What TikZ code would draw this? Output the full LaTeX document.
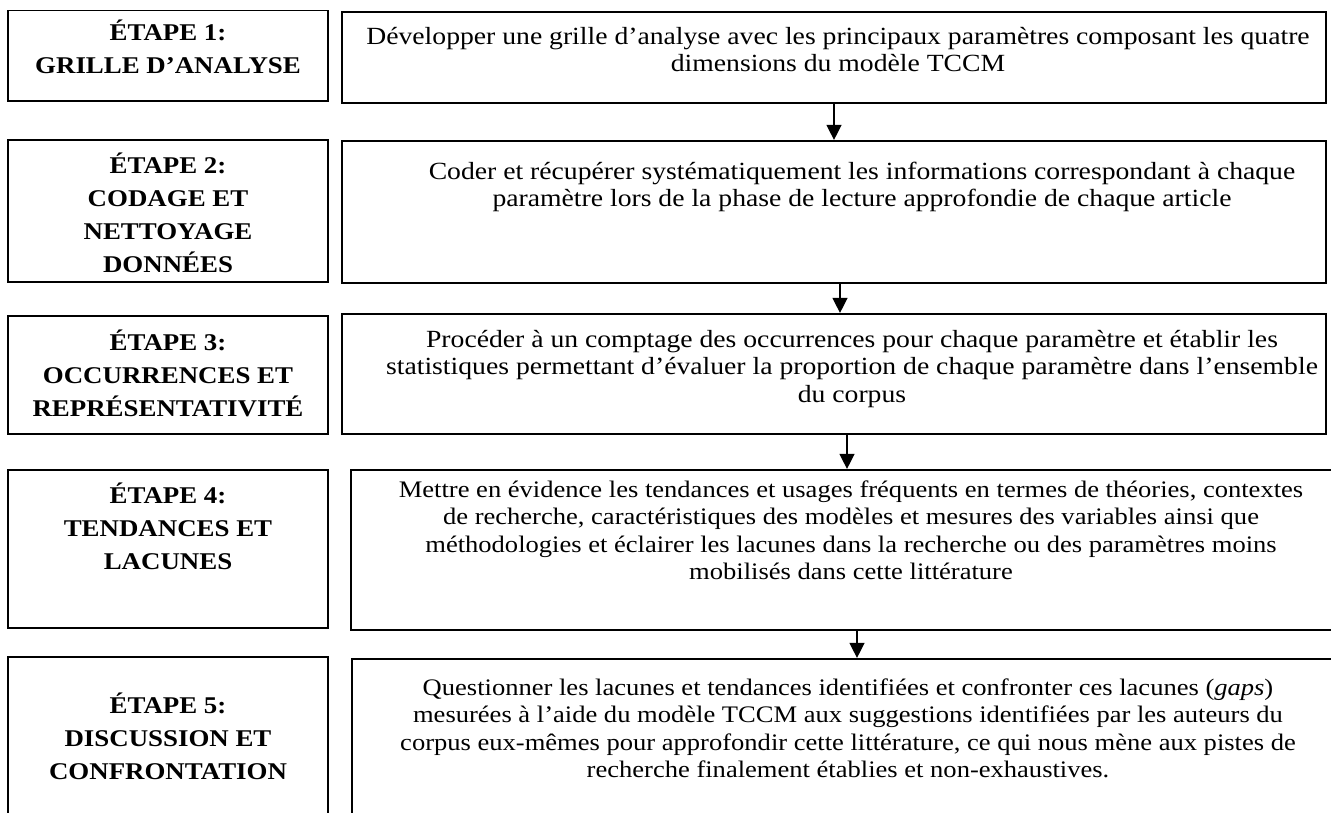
\documentclass[tikz,border=0pt]{standalone}
\usepackage{fontspec}
\setmainfont{Liberation Serif}[FakeStretch=1.12]
\usetikzlibrary{arrows.meta}
\newcommand\rtxt[1]{\parbox[t]{1100pt}{\centering\fontsize{24.7}{27.5}\selectfont #1}}
\newcommand\rtxts[1]{\parbox[t]{1100pt}{\centering\fontsize{23.7}{27.5}\selectfont #1}}
\newcommand\ltxt[1]{\parbox[t]{330pt}{\centering\bfseries\fontsize{24}{33}\selectfont #1}}
\begin{document}
\begin{tikzpicture}[x=1pt,y=-1pt,
  lbox/.style={draw, line width=1.5pt, inner sep=0pt},
  rbox/.style={draw, line width=2.2pt, inner sep=0pt},
  txt/.style={anchor=base, inner sep=0pt},
  arr/.style={line width=1.3pt, -{Triangle[width=15pt,length=15pt]}}]
\useasboundingbox (0,0) rectangle (1331,812);
% left boxes
\node[lbox, minimum width=320pt, minimum height=90.5pt] (L1) at (168,55.75) {};
\node[lbox, minimum width=320pt, minimum height=142pt] (L2) at (168,211) {};
\node[lbox, minimum width=320pt, minimum height=118pt] (L3) at (168,375) {};
\node[lbox, minimum width=320pt, minimum height=158pt] (L4) at (168,549) {};
\node[lbox, minimum width=320pt, minimum height=213pt] (L5) at (168,763.5) {};
% right boxes
\node[rbox, minimum width=984pt, minimum height=91pt] (R1) at (834,57.5) {};
\node[rbox, minimum width=984pt, minimum height=142pt] (R2) at (834,212) {};
\node[rbox, minimum width=984pt, minimum height=120pt] (R3) at (834,374) {};
\node[rbox, minimum width=1012pt, minimum height=160pt] (R4) at (857,550) {};
\node[rbox, minimum width=1012pt, minimum height=211pt] (R5) at (858,764.5) {};
% left texts
\node[txt] (tL1) at (168,40) {\ltxt{ÉTAPE 1:\\GRILLE D’ANALYSE}};
\node[txt] (tL2) at (168,173) {\ltxt{ÉTAPE 2:\\CODAGE ET\\NETTOYAGE\\DONNÉES}};
\node[txt] (tL3) at (168,350) {\ltxt{ÉTAPE 3:\\OCCURRENCES ET\\REPRÉSENTATIVITÉ}};
\node[txt] (tL4) at (168,503) {\ltxt{ÉTAPE 4:\\TENDANCES ET\\LACUNES}};
\node[txt] (tL5) at (168,713) {\ltxt{ÉTAPE 5:\\DISCUSSION ET\\CONFRONTATION}};
% right texts
\node[txt] (tR1) at (838,44) {\rtxt{Développer une grille d’analyse avec les principaux paramètres composant les quatre\\dimensions du modèle TCCM}};
\node[txt] (tR2) at (862,179) {\rtxt{Coder et récupérer systématiquement les informations correspondant à chaque\\paramètre lors de la phase de lecture approfondie de chaque article}};
\node[txt] (tR3) at (852,347) {\rtxt{Procéder à un comptage des occurrences pour chaque paramètre et établir les\\statistiques permettant d’évaluer la proportion de chaque paramètre dans l’ensemble\\du corpus}};
\node[txt] (tR4) at (851,497) {\rtxts{Mettre en évidence les tendances et usages fréquents en termes de théories, contextes\\de recherche, caractéristiques des modèles et mesures des variables ainsi que\\méthodologies et éclairer les lacunes dans la recherche ou des paramètres moins\\mobilisés dans cette littérature}};
\node[txt] (tR5) at (848,695) {\rtxts{Questionner les lacunes et tendances identifiées et confronter ces lacunes (\textit{gaps})\\mesurées à l’aide du modèle TCCM aux suggestions identifiées par les auteurs du\\corpus eux-mêmes pour approfondir cette littérature, ce qui nous mène aux pistes de\\recherche finalement établies et non-exhaustives.}};
% arrows
\draw[arr] (R1.south) -- (R1.south |- R2.north);
\draw[arr] ([xshift=6pt]R2.south) -- ([xshift=6pt]R2.south |- R3.north);
\draw[arr] ([xshift=13pt]R3.south) -- ([xshift=13pt]R3.south |- R4.north);
\draw[arr] (R4.south) -- (R4.south |- R5.north);
\end{tikzpicture}
\end{document}
